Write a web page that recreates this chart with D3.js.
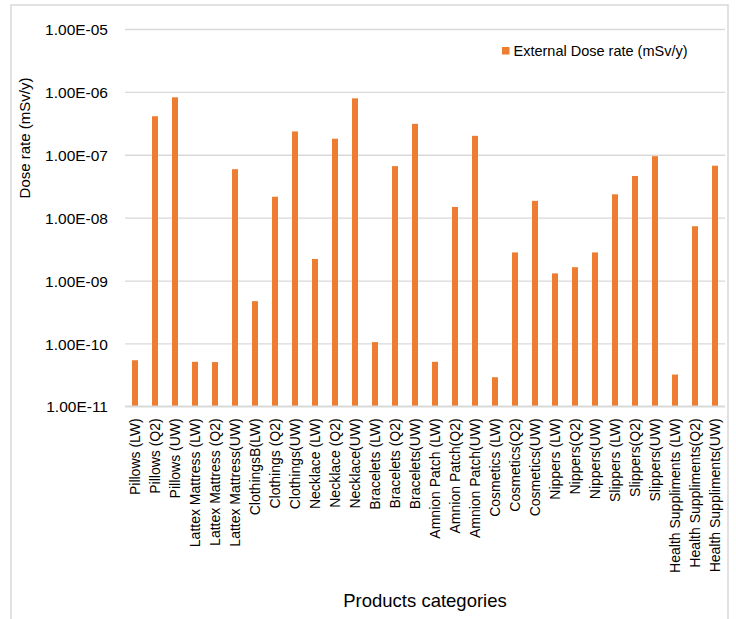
<!DOCTYPE html>
<html>
<head>
<meta charset="utf-8">
<script src="https://cdn.jsdelivr.net/npm/d3@7"></script>
<style>
  html, body { margin: 0; padding: 0; background: #fff; }
  svg { display: block; font-family: "Liberation Sans", Arial, sans-serif; }
</style>
</head>
<body>
<svg id="chart" width="736" height="619"></svg>
<script>
// Product categories along the x axis
const categories = [
  "Pillows (LW)", "Pillows (Q2)", "Pillows (UW)",
  "Lattex Mattress (LW)", "Lattex Mattress (Q2)", "Lattex Mattress(UW)",
  "ClothingsB(LW)", "Clothings (Q2)", "Clothings(UW)",
  "Necklace (LW)", "Necklace (Q2)", "Necklace(UW)",
  "Bracelets (LW)", "Bracelets (Q2)", "Bracelets(UW)",
  "Amnion Patch (LW)", "Amnion Patch(Q2)", "Amnion Patch(UW)",
  "Cosmetics (LW)", "Cosmetics(Q2)", "Cosmetics(UW)",
  "Nippers (LW)", "Nippers(Q2)", "Nippers(UW)",
  "Slippers (LW)", "Slippers(Q2)", "Slippers(UW)",
  "Health Suppliments (LW)", "Health Suppliments(Q2)", "Health Suppliments(UW)"
];

// External dose rate (mSv/y) per category
const doseRate = [
  5.4e-11, 4.1e-7, 8.2e-7,
  5.1e-11, 5.05e-11, 5.9e-8,
  4.7e-10, 2.15e-8, 2.35e-7,
  2.2e-9, 1.8e-7, 7.9e-7,
  1.05e-10, 6.6e-8, 3.1e-7,
  5.1e-11, 1.48e-8, 2.0e-7,
  2.9e-11, 2.8e-9, 1.85e-8,
  1.3e-9, 1.63e-9, 2.8e-9,
  2.35e-8, 4.6e-8, 9.5e-8,
  3.2e-11, 7.3e-9, 6.7e-8
];

// Y axis ticks (log scale decades) and their labels
const yTicks = [1e-11, 1e-10, 1e-9, 1e-8, 1e-7, 1e-6, 1e-5];
const yTickLabels = ["1.00E-11", "1.00E-10", "1.00E-09", "1.00E-08", "1.00E-07", "1.00E-06", "1.00E-05"];

const seriesName = "External Dose rate (mSv/y)";
const yTitle = "Dose rate (mSv/y)";
const xTitle = "Products categories";

const svg = d3.select("#chart");
const barColor = "#ed7d31";
const gridColor = "#d9d9d9";

const plot = { left: 125, right: 725, top: 29, bottom: 406.3 };

// Outer chart frame
svg.append("rect")
  .attr("x", 11).attr("y", 5)
  .attr("width", 717).attr("height", 640)
  .attr("fill", "none")
  .attr("stroke", gridColor)
  .attr("stroke-width", 1.5);

const x = d3.scaleBand()
  .domain(categories)
  .range([plot.left, plot.right])
  .paddingInner(0.7)
  .paddingOuter(0.35);

const y = d3.scaleLog()
  .domain([1e-11, 1e-5])
  .range([plot.bottom, plot.top]);

// Horizontal gridlines with tick labels
const yAxis = d3.axisLeft(y)
  .tickValues(yTicks)
  .tickFormat((d, i) => yTickLabels[i])
  .tickSize(-(plot.right - plot.left))
  .tickPadding(17);

const gy = svg.append("g")
  .attr("transform", `translate(${plot.left},0)`)
  .call(yAxis);
gy.select(".domain").remove();
gy.selectAll(".tick line").attr("stroke", gridColor).attr("stroke-width", 1.3);
gy.selectAll(".tick text")
  .attr("fill", "#000")
  .style("font-size", "15.5px")
  .attr("dy", "0.36em");

// Bars
svg.append("g")
  .selectAll("rect")
  .data(categories.map((c, i) => ({ c, v: doseRate[i] })))
  .join("rect")
  .attr("x", d => x(d.c))
  .attr("width", x.bandwidth())
  .attr("y", d => y(d.v))
  .attr("height", d => y(1e-11) - y(d.v))
  .attr("fill", barColor);

// Category axis
const xAxis = d3.axisBottom(x).tickSize(0).tickPadding(0);
const gx = svg.append("g")
  .attr("transform", `translate(0,${plot.bottom})`)
  .call(xAxis);
gx.select(".domain")
  .attr("stroke", gridColor)
  .attr("stroke-width", 1.5)
  .attr("d", `M${plot.left},0H${plot.right}`);
gx.selectAll(".tick text")
  .attr("fill", "#000")
  .style("font-size", "14px")
  .attr("text-anchor", "end")
  .attr("y", 0)
  .attr("dy", 0)
  .attr("transform", "translate(5.2,12) rotate(-90)");

// Axis titles
svg.append("text")
  .attr("transform", "translate(30,138) rotate(-90)")
  .attr("text-anchor", "middle")
  .style("font-size", "15px")
  .text(yTitle);

svg.append("text")
  .attr("x", (plot.left + plot.right) / 2)
  .attr("y", 606.5)
  .attr("text-anchor", "middle")
  .style("font-size", "18.5px")
  .text(xTitle);

// Legend
const lg = svg.append("g").attr("transform", "translate(502,47)");
lg.append("rect").attr("width", 7.5).attr("height", 7.5).attr("fill", barColor);
lg.append("text")
  .attr("x", 11.5).attr("y", 8.7)
  .style("font-size", "14.5px")
  .text(seriesName);
</script>
</body>
</html>
